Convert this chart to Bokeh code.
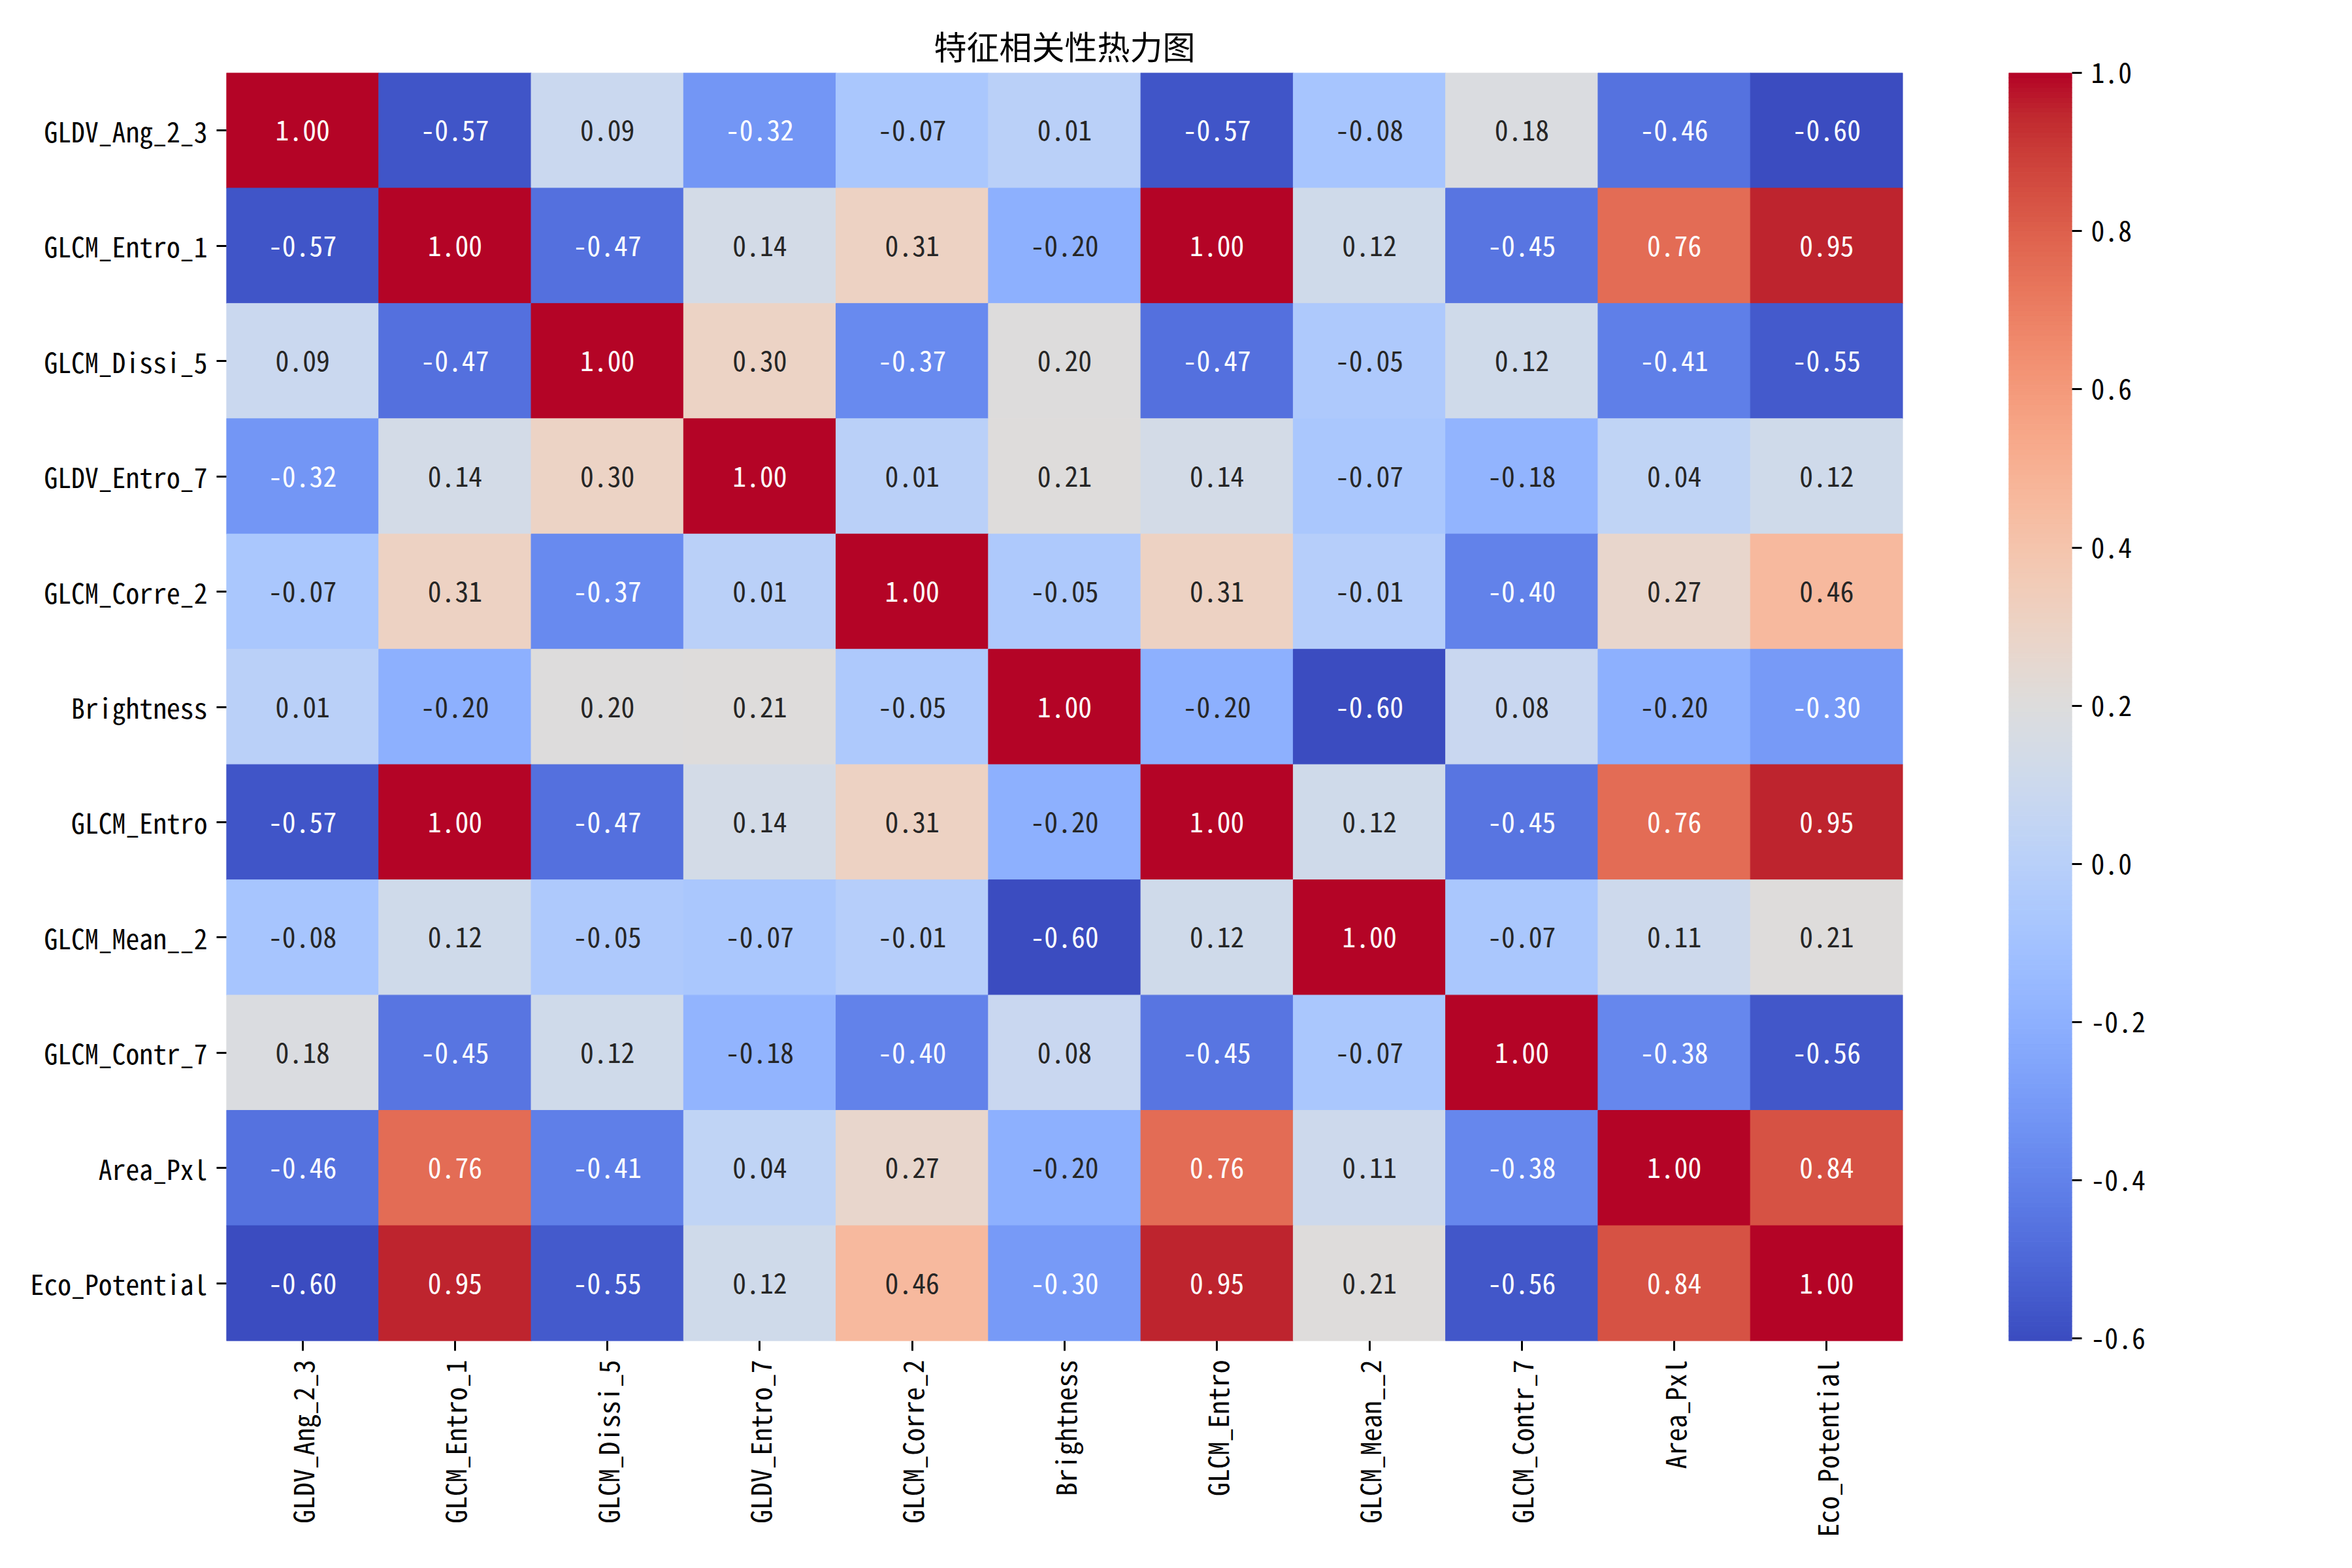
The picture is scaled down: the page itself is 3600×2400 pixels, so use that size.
import numpy as np
from bokeh.plotting import figure
from bokeh.models import (ColumnDataSource, FactorRange, Range1d, FixedTicker,
                          CustomJSTickFormatter, LinearColorMapper)
from bokeh.layouts import row
from bokeh.core.properties import value
from bokeh.embed import file_html
from bokeh.resources import INLINE

# ---------------- data ----------------
features = ["GLDV_Ang_2_3", "GLCM_Entro_1", "GLCM_Dissi_5", "GLDV_Entro_7",
            "GLCM_Corre_2", "Brightness", "GLCM_Entro", "GLCM_Mean__2",
            "GLCM_Contr_7", "Area_Pxl", "Eco_Potential"]

r_gldv_ang_2_3  = [1.00, -0.57, 0.09, -0.32, -0.07, 0.01, -0.57, -0.08, 0.18, -0.46, -0.60]
r_glcm_entro_1  = [-0.57, 1.00, -0.47, 0.14, 0.31, -0.20, 1.00, 0.12, -0.45, 0.76, 0.95]
r_glcm_dissi_5  = [0.09, -0.47, 1.00, 0.30, -0.37, 0.20, -0.47, -0.05, 0.12, -0.41, -0.55]
r_gldv_entro_7  = [-0.32, 0.14, 0.30, 1.00, 0.01, 0.21, 0.14, -0.07, -0.18, 0.04, 0.12]
r_glcm_corre_2  = [-0.07, 0.31, -0.37, 0.01, 1.00, -0.05, 0.31, -0.01, -0.40, 0.27, 0.46]
r_brightness    = [0.01, -0.20, 0.20, 0.21, -0.05, 1.00, -0.20, -0.60, 0.08, -0.20, -0.30]
r_glcm_entro    = [-0.57, 1.00, -0.47, 0.14, 0.31, -0.20, 1.00, 0.12, -0.45, 0.76, 0.95]
r_glcm_mean__2  = [-0.08, 0.12, -0.05, -0.07, -0.01, -0.60, 0.12, 1.00, -0.07, 0.11, 0.21]
r_glcm_contr_7  = [0.18, -0.45, 0.12, -0.18, -0.40, 0.08, -0.45, -0.07, 1.00, -0.38, -0.56]
r_area_pxl      = [-0.46, 0.76, -0.41, 0.04, 0.27, -0.20, 0.76, 0.11, -0.38, 1.00, 0.84]
r_eco_potential = [-0.60, 0.95, -0.55, 0.12, 0.46, -0.30, 0.95, 0.21, -0.56, 0.84, 1.00]

matrix = [r_gldv_ang_2_3, r_glcm_entro_1, r_glcm_dissi_5, r_gldv_entro_7,
          r_glcm_corre_2, r_brightness, r_glcm_entro, r_glcm_mean__2,
          r_glcm_contr_7, r_area_pxl, r_eco_potential]

vmin, vmax = -0.603, 1.0
cbar_ticks = [-0.6, -0.4, -0.2, 0.0, 0.2, 0.4, 0.6, 0.8, 1.0]
title_text = "特征相关性热力图"

# ---------------- coolwarm colormap (style) ----------------
coolwarm_anchors = [
    (0.2298057, 0.298717966, 0.753683153), (0.26623388, 0.353094838, 0.801466763),
    (0.30386891, 0.406535296, 0.84495867), (0.342804478, 0.458757618, 0.883725899),
    (0.38301334, 0.50941904, 0.917387822), (0.424369608, 0.558148092, 0.945619588),
    (0.46666708, 0.604562568, 0.968154911), (0.509635204, 0.648280772, 0.98478814),
    (0.552953156, 0.688929332, 0.995375608), (0.596262162, 0.726149107, 0.999836203),
    (0.639176211, 0.759599947, 0.998151185), (0.681291281, 0.788964712, 0.990363227),
    (0.722193294, 0.813952739, 0.976574709), (0.761464949, 0.834302879, 0.956945269),
    (0.798691636, 0.849786142, 0.931688648), (0.833466556, 0.860207984, 0.901068838),
    (0.865395197, 0.86541021, 0.865395561), (0.897787179, 0.848937047, 0.820880546),
    (0.924127593, 0.827384882, 0.774508472), (0.944468518, 0.800927443, 0.726736146),
    (0.958852946, 0.769767752, 0.678007945), (0.96732803, 0.734132809, 0.628751763),
    (0.969954137, 0.694266682, 0.579375448), (0.966811177, 0.650421156, 0.530263762),
    (0.958003065, 0.602842431, 0.481775914), (0.943660866, 0.551750968, 0.434243684),
    (0.923944917, 0.49730856, 0.387970225), (0.89904617, 0.439559467, 0.343229596),
    (0.869186849, 0.378313092, 0.300267182), (0.834620542, 0.312874446, 0.259301199),
    (0.795631745, 0.24128379, 0.220525627), (0.752534934, 0.157246067, 0.184115123),
    (0.705673158, 0.01555616, 0.150232812)]
anch = np.array(coolwarm_anchors)
apos = np.linspace(0, 1, len(anch))
N = 256
tpos = np.linspace(0, 1, N)
rgb = np.stack([np.interp(tpos, apos, anch[:, k]) for k in range(3)], axis=1)
palette = ["#%02x%02x%02x" % tuple(int(round(c * 255)) for c in col) for col in rgb]

def rgb_of(v):
    t = (v - vmin) / (vmax - vmin)
    idx = min(int(np.floor(t * N)), N - 1) if t < 1 else N - 1
    idx = max(idx, 0)
    return rgb[idx]

def text_color(v):
    c = rgb_of(v)
    lin = np.where(c <= 0.03928, c / 12.92, ((c + 0.055) / 1.055) ** 2.4)
    lum = lin.dot([0.2126, 0.7152, 0.0722])
    return "#262626" if lum > 0.408 else "#ffffff"

xs, ys, vals, labels, tcols = [], [], [], [], []
for i, rname in enumerate(features):
    for j, cname in enumerate(features):
        v = matrix[i][j]
        xs.append(cname)
        ys.append(rname)
        vals.append(v)
        labels.append("%.2f" % v)
        tcols.append(text_color(v))

src = ColumnDataSource(dict(x=xs, y=ys, v=vals, label=labels, tc=tcols))
mapper = LinearColorMapper(palette=palette, low=vmin, high=vmax)

FONT = "Noto Sans Mono CJK SC"
FS = "41.7px"

# ---------------- heatmap figure ----------------
W1 = 2965
H = 2384
BL, BT, FW, FH = 346, 111, 2566, 1941
p = figure(width=W1, height=H, output_backend="svg", toolbar_location=None,
           x_range=FactorRange(*features), y_range=FactorRange(*features[::-1]),
           min_border_left=BL, min_border_right=W1 - BL - FW,
           min_border_top=BT, min_border_bottom=H - BT - FH,
           title=title_text)
p.rect(x="x", y="y", width=1, height=1, source=src,
       fill_color={"field": "v", "transform": mapper},
       line_color={"field": "v", "transform": mapper}, line_width=1)
p.text(x="x", y="y", text="label", source=src, text_align="center",
       text_baseline="middle", text_color="tc",
       text_font=value(FONT), text_font_size=FS)

p.title.align = "center"
p.title.text_font = FONT
p.title.text_font_size = "50px"
p.title.text_font_style = "normal"
p.title.text_color = "#000000"
p.title.standoff = 14

p.grid.visible = False
p.outline_line_color = None
p.background_fill_color = "white"
p.border_fill_color = "white"
for ax in (p.xaxis[0], p.yaxis[0]):
    ax.axis_line_color = None
    ax.major_tick_out = 15
    ax.major_tick_in = 0
    ax.major_tick_line_width = 3
    ax.major_tick_line_color = "#000000"
    ax.minor_tick_line_color = None
    ax.major_label_standoff = 14
    ax.major_label_text_font = FONT
    ax.major_label_text_font_size = FS
    ax.major_label_text_color = "#000000"
p.xaxis.major_label_orientation = np.pi / 2
p.x_range.range_padding = 0
p.y_range.range_padding = 0

# ---------------- colorbar figure ----------------
W2 = 3584 - W1
CBL = 109
cb = figure(width=W2, height=H, output_backend="svg", toolbar_location=None,
            x_range=Range1d(0, 1), y_range=Range1d(vmin, vmax),
            y_axis_location="right",
            min_border_left=CBL, min_border_right=W2 - CBL - 97,
            min_border_top=BT, min_border_bottom=H - BT - FH)
edges = np.linspace(vmin, vmax, N + 1)
cb.quad(left=0, right=1, bottom=edges[:-1], top=edges[1:],
        fill_color=palette, line_color=palette, line_width=1)
cb.xaxis.visible = False
cb.grid.visible = False
cb.outline_line_color = None
yax = cb.yaxis[0]
yax.ticker = FixedTicker(ticks=cbar_ticks)
yax.formatter = CustomJSTickFormatter(code="return tick.toFixed(1);")
yax.axis_line_color = None
yax.major_tick_out = 15
yax.major_tick_in = 0
yax.major_tick_line_width = 3
yax.minor_tick_line_color = None
yax.major_label_standoff = 14
yax.major_label_text_font = FONT
yax.major_label_text_font_size = FS
yax.major_label_text_color = "#000000"

layout = row(p, cb, spacing=0)
open("out.html", "w").write(file_html(layout, INLINE))
